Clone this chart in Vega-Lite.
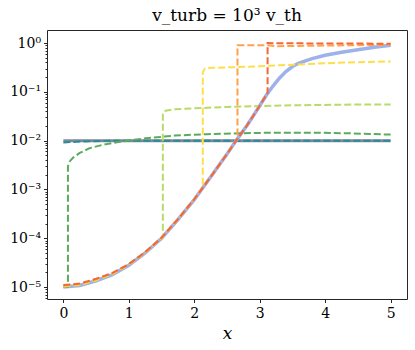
{
  "$schema": "https://vega.github.io/schema/vega-lite/v6.json",
  "width": 360,
  "height": 269,
  "autosize": {"type": "none"},
  "padding": {"left": 47, "top": 30, "right": 8, "bottom": 51},
  "background": "white",
  "config": {
    "view": {"stroke": "#262626", "strokeWidth": 1},
    "axis": {"grid": false, "domainColor": "#262626", "tickColor": "#262626", "labelFont": "DejaVu Serif", "titleFont": "DejaVu Serif", "labelColor": "black", "titleColor": "black", "labelFontSize": 14, "titleFontSize": 16, "titleFontWeight": "normal"}
  },
  "title": {"text": "v_turb = 10³ v_th", "font": "DejaVu Serif", "fontSize": 17, "fontWeight": "normal", "color": "black", "offset": 5},
  "data": {"values": [
    {"series": "gray", "x": 0, "y": 0.01},
    {"series": "gray", "x": 5, "y": 0.01},

    {"series": "teal", "x": 0, "y": 0.0092},
    {"series": "teal", "x": 0.2, "y": 0.0095},
    {"series": "teal", "x": 0.4, "y": 0.0097},
    {"series": "teal", "x": 0.7, "y": 0.0099},
    {"series": "teal", "x": 1.0, "y": 0.01},
    {"series": "teal", "x": 5.0, "y": 0.01},

    {"series": "blue", "x": 0, "y": 1.0e-5},
    {"series": "blue", "x": 0.25, "y": 1.08e-5},
    {"series": "blue", "x": 0.5, "y": 1.35e-5},
    {"series": "blue", "x": 0.75, "y": 1.8e-5},
    {"series": "blue", "x": 1.0, "y": 2.8e-5},
    {"series": "blue", "x": 1.25, "y": 5.0e-5},
    {"series": "blue", "x": 1.5, "y": 1.0e-4},
    {"series": "blue", "x": 1.75, "y": 2.4e-4},
    {"series": "blue", "x": 2.0, "y": 6.2e-4},
    {"series": "blue", "x": 2.25, "y": 1.8e-3},
    {"series": "blue", "x": 2.5, "y": 5.3e-3},
    {"series": "blue", "x": 2.65, "y": 1.05e-2},
    {"series": "blue", "x": 2.8, "y": 2.0e-2},
    {"series": "blue", "x": 2.9, "y": 3.2e-2},
    {"series": "blue", "x": 3.0, "y": 5.2e-2},
    {"series": "blue", "x": 3.1, "y": 8.5e-2},
    {"series": "blue", "x": 3.2, "y": 0.13},
    {"series": "blue", "x": 3.3, "y": 0.19},
    {"series": "blue", "x": 3.4, "y": 0.26},
    {"series": "blue", "x": 3.5, "y": 0.33},
    {"series": "blue", "x": 3.6, "y": 0.39},
    {"series": "blue", "x": 3.8, "y": 0.48},
    {"series": "blue", "x": 4.0, "y": 0.56},
    {"series": "blue", "x": 4.25, "y": 0.65},
    {"series": "blue", "x": 4.5, "y": 0.73},
    {"series": "blue", "x": 4.75, "y": 0.82},
    {"series": "blue", "x": 5.0, "y": 0.9},

    {"series": "green", "x": 0, "y": 1.0e-5},
    {"series": "green", "x": 0.07, "y": 1.0e-5},
    {"series": "green", "x": 0.07, "y": 3.0e-3},
    {"series": "green", "x": 0.1, "y": 3.8e-3},
    {"series": "green", "x": 0.15, "y": 4.5e-3},
    {"series": "green", "x": 0.25, "y": 5.6e-3},
    {"series": "green", "x": 0.4, "y": 7.0e-3},
    {"series": "green", "x": 0.6, "y": 8.2e-3},
    {"series": "green", "x": 0.8, "y": 9.2e-3},
    {"series": "green", "x": 1.0, "y": 0.0101},
    {"series": "green", "x": 1.3, "y": 0.0113},
    {"series": "green", "x": 1.7, "y": 0.0127},
    {"series": "green", "x": 2.2, "y": 0.0136},
    {"series": "green", "x": 2.7, "y": 0.0142},
    {"series": "green", "x": 3.3, "y": 0.0146},
    {"series": "green", "x": 3.8, "y": 0.0146},
    {"series": "green", "x": 4.4, "y": 0.0141},
    {"series": "green", "x": 5.0, "y": 0.0133},

    {"series": "lime", "x": 0, "y": 1.02e-5},
    {"series": "lime", "x": 0.25, "y": 1.1e-5},
    {"series": "lime", "x": 0.5, "y": 1.38e-5},
    {"series": "lime", "x": 0.75, "y": 1.85e-5},
    {"series": "lime", "x": 1.0, "y": 2.85e-5},
    {"series": "lime", "x": 1.25, "y": 5.1e-5},
    {"series": "lime", "x": 1.52, "y": 1.05e-4},
    {"series": "lime", "x": 1.52, "y": 0.035},
    {"series": "lime", "x": 1.56, "y": 0.041},
    {"series": "lime", "x": 1.7, "y": 0.044},
    {"series": "lime", "x": 2.0, "y": 0.046},
    {"series": "lime", "x": 2.5, "y": 0.049},
    {"series": "lime", "x": 3.0, "y": 0.051},
    {"series": "lime", "x": 3.5, "y": 0.053},
    {"series": "lime", "x": 4.0, "y": 0.054},
    {"series": "lime", "x": 4.5, "y": 0.055},
    {"series": "lime", "x": 5.0, "y": 0.055},

    {"series": "yellow", "x": 0, "y": 1.04e-5},
    {"series": "yellow", "x": 0.25, "y": 1.12e-5},
    {"series": "yellow", "x": 0.5, "y": 1.4e-5},
    {"series": "yellow", "x": 0.75, "y": 1.88e-5},
    {"series": "yellow", "x": 1.0, "y": 2.9e-5},
    {"series": "yellow", "x": 1.25, "y": 5.1e-5},
    {"series": "yellow", "x": 1.5, "y": 1.02e-4},
    {"series": "yellow", "x": 1.75, "y": 2.45e-4},
    {"series": "yellow", "x": 2.0, "y": 6.3e-4},
    {"series": "yellow", "x": 2.13, "y": 1.1e-3},
    {"series": "yellow", "x": 2.13, "y": 0.25},
    {"series": "yellow", "x": 2.16, "y": 0.3},
    {"series": "yellow", "x": 2.25, "y": 0.31},
    {"series": "yellow", "x": 2.6, "y": 0.32},
    {"series": "yellow", "x": 3.0, "y": 0.335},
    {"series": "yellow", "x": 3.5, "y": 0.36},
    {"series": "yellow", "x": 4.0, "y": 0.385},
    {"series": "yellow", "x": 4.5, "y": 0.405},
    {"series": "yellow", "x": 5.0, "y": 0.42},

    {"series": "orange", "x": 0, "y": 1.07e-5},
    {"series": "orange", "x": 0.25, "y": 1.15e-5},
    {"series": "orange", "x": 0.5, "y": 1.44e-5},
    {"series": "orange", "x": 0.75, "y": 1.92e-5},
    {"series": "orange", "x": 1.0, "y": 2.92e-5},
    {"series": "orange", "x": 1.25, "y": 5.15e-5},
    {"series": "orange", "x": 1.5, "y": 1.02e-4},
    {"series": "orange", "x": 1.75, "y": 2.45e-4},
    {"series": "orange", "x": 2.0, "y": 6.3e-4},
    {"series": "orange", "x": 2.25, "y": 1.8e-3},
    {"series": "orange", "x": 2.5, "y": 5.3e-3},
    {"series": "orange", "x": 2.66, "y": 1.1e-2},
    {"series": "orange", "x": 2.66, "y": 0.9},
    {"series": "orange", "x": 3.1, "y": 0.9},
    {"series": "orange", "x": 3.25, "y": 0.86},
    {"series": "orange", "x": 4.0, "y": 0.89},
    {"series": "orange", "x": 5.0, "y": 0.92},

    {"series": "red", "x": 0, "y": 1.1e-5},
    {"series": "red", "x": 0.25, "y": 1.18e-5},
    {"series": "red", "x": 0.5, "y": 1.48e-5},
    {"series": "red", "x": 0.75, "y": 1.95e-5},
    {"series": "red", "x": 1.0, "y": 2.95e-5},
    {"series": "red", "x": 1.25, "y": 5.2e-5},
    {"series": "red", "x": 1.5, "y": 1.02e-4},
    {"series": "red", "x": 1.75, "y": 2.45e-4},
    {"series": "red", "x": 2.0, "y": 6.3e-4},
    {"series": "red", "x": 2.25, "y": 1.8e-3},
    {"series": "red", "x": 2.5, "y": 5.3e-3},
    {"series": "red", "x": 2.65, "y": 1.05e-2},
    {"series": "red", "x": 2.8, "y": 2.0e-2},
    {"series": "red", "x": 2.9, "y": 3.2e-2},
    {"series": "red", "x": 3.0, "y": 5.2e-2},
    {"series": "red", "x": 3.12, "y": 0.095},
    {"series": "red", "x": 3.12, "y": 1.0},
    {"series": "red", "x": 3.3, "y": 0.99},
    {"series": "red", "x": 4.0, "y": 0.98},
    {"series": "red", "x": 5.0, "y": 0.97}
  ]},
  "encoding": {
    "x": {
      "field": "x", "type": "quantitative",
      "scale": {"domain": [-0.25, 5.25], "nice": false, "zero": false},
      "axis": {"values": [0, 1, 2, 3, 4, 5], "format": "d", "tickSize": 3.5, "labelPadding": 4, "title": "x", "titleFontStyle": "italic", "titleFontSize": 17, "titlePadding": 5, "domain": false}
    },
    "y": {
      "field": "y", "type": "quantitative",
      "scale": {"type": "log", "domain": [5.7e-6, 1.85], "nice": false},
      "axis": {
        "values": [6e-6, 7e-6, 8e-6, 9e-6, 1e-5, 2e-5, 3e-5, 4e-5, 5e-5, 6e-5, 7e-5, 8e-5, 9e-5, 1e-4, 2e-4, 3e-4, 4e-4, 5e-4, 6e-4, 7e-4, 8e-4, 9e-4, 1e-3, 2e-3, 3e-3, 4e-3, 5e-3, 6e-3, 7e-3, 8e-3, 9e-3, 0.01, 0.02, 0.03, 0.04, 0.05, 0.06, 0.07, 0.08, 0.09, 0.1, 0.2, 0.3, 0.4, 0.5, 0.6, 0.7, 0.8, 0.9, 1],
        "labelExpr": "abs(log(datum.value)/LN10 - round(log(datum.value)/LN10)) > 0.01 ? '' : (round(log(datum.value)/LN10) == 0 ? '10⁰' : round(log(datum.value)/LN10) == -1 ? '10⁻¹' : round(log(datum.value)/LN10) == -2 ? '10⁻²' : round(log(datum.value)/LN10) == -3 ? '10⁻³' : round(log(datum.value)/LN10) == -4 ? '10⁻⁴' : '10⁻⁵')",
        "tickSize": {"condition": {"test": "abs(log(datum.value)/LN10 - round(log(datum.value)/LN10)) < 0.01", "value": 3.5}, "value": 2},
        "labelPadding": 3,
        "title": null,
        "domain": false
      }
    },
    "color": {
      "field": "series", "type": "nominal",
      "scale": {
        "domain": ["gray", "teal", "blue", "green", "lime", "yellow", "orange", "red"],
        "range": ["#7d8a98", "#2b8a98", "#9db1ea", "#5aab5c", "#b7dc68", "#fedf4a", "#ffa24a", "#f56636"]
      },
      "legend": null
    },
    "order": {"value": null}
  },
  "layer": [
    {"transform": [{"filter": "datum.series === 'gray'"}], "mark": {"type": "line", "strokeWidth": 3}},
    {"transform": [{"filter": "datum.series === 'teal'"}], "mark": {"type": "line", "strokeWidth": 2, "strokeDash": [7, 3]}},
    {"transform": [{"filter": "datum.series === 'blue'"}], "mark": {"type": "line", "strokeWidth": 3.5}},
    {"transform": [{"filter": "datum.series !== 'gray' && datum.series !== 'teal' && datum.series !== 'blue'"}], "mark": {"type": "line", "strokeWidth": 2, "strokeDash": [7, 3]}}
  ]
}
